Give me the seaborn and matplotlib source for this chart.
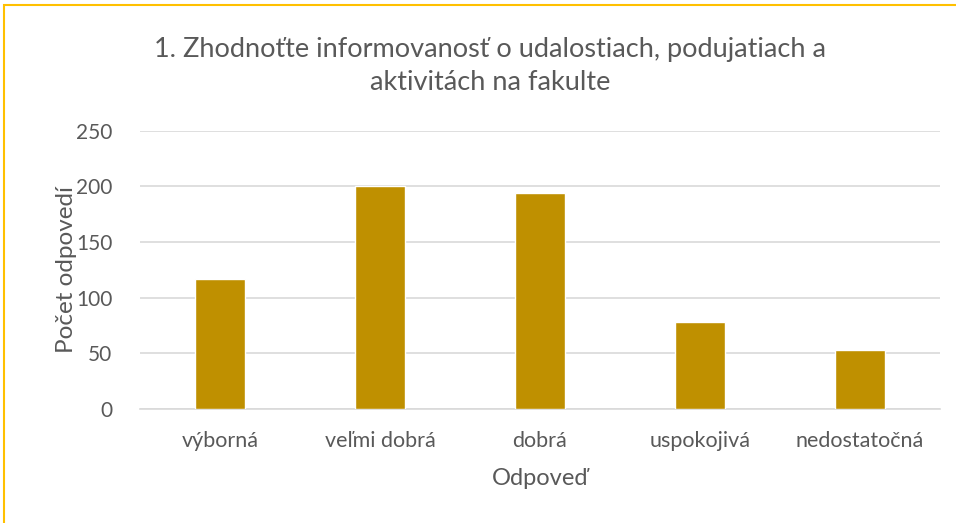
import matplotlib
matplotlib.use("Agg")
import matplotlib.pyplot as plt
import seaborn as sns
import pandas as pd
from matplotlib.patches import Rectangle

categories = ["výborná", "veľmi dobrá", "dobrá", "uspokojivá", "nedostatočná"]
counts = [117, 200, 194, 78, 53]
yticks = [0, 50, 100, 150, 200, 250]

title = "1. Zhodnoťte informovanosť o udalostiach, podujatiach a\naktivitách na fakulte"
xlabel = "Odpoveď"
ylabel = "Počet odpovedí"

sns.set_theme(style="white")
plt.rcParams["font.family"] = ["Lato", "DejaVu Sans"]

text_color = "#595959"
bar_color = "#BF9000"
grid_color = "#D9D9D9"

df = pd.DataFrame({"odpoved": categories, "pocet": counts})

fig = plt.figure(figsize=(9.56, 5.23), dpi=100)
ax = fig.add_axes([0.1464, 0.218, 0.8366, 0.532])

sns.barplot(data=df, x="odpoved", y="pocet", color=bar_color, width=0.315,
            saturation=1, ax=ax, zorder=3)

ax.set_ylim(0, 250)
ax.set_yticks(yticks)
ax.set_xlim(-0.5, len(categories) - 0.5)
ax.yaxis.grid(True, color=grid_color, linewidth=1.2, zorder=0)
ax.xaxis.grid(False)
for s in ["top", "right", "left"]:
    ax.spines[s].set_visible(False)
ax.spines["bottom"].set_color(grid_color)
ax.spines["bottom"].set_linewidth(1.2)

ax.tick_params(axis="x", length=0, labelsize=15.5, colors=text_color, pad=16)
ax.tick_params(axis="y", length=0, labelsize=15, colors=text_color, pad=20)

ax.set_xlabel(xlabel, fontsize=17, color=text_color, labelpad=12)
ax.set_ylabel(ylabel, fontsize=17.5, color=text_color, labelpad=-1)

fig.text(0.513, 0.874, title, ha="center", va="center", fontsize=19.5,
         color=text_color, linespacing=1.42)

# chart border (left and top visible in the reference crop)
fig.patches.append(Rectangle((0.004, -0.1), 1.2, 1.09, transform=fig.transFigure,
                             fill=False, edgecolor="#FFC000", linewidth=1.5))

fig.savefig("out.png", dpi=100)
